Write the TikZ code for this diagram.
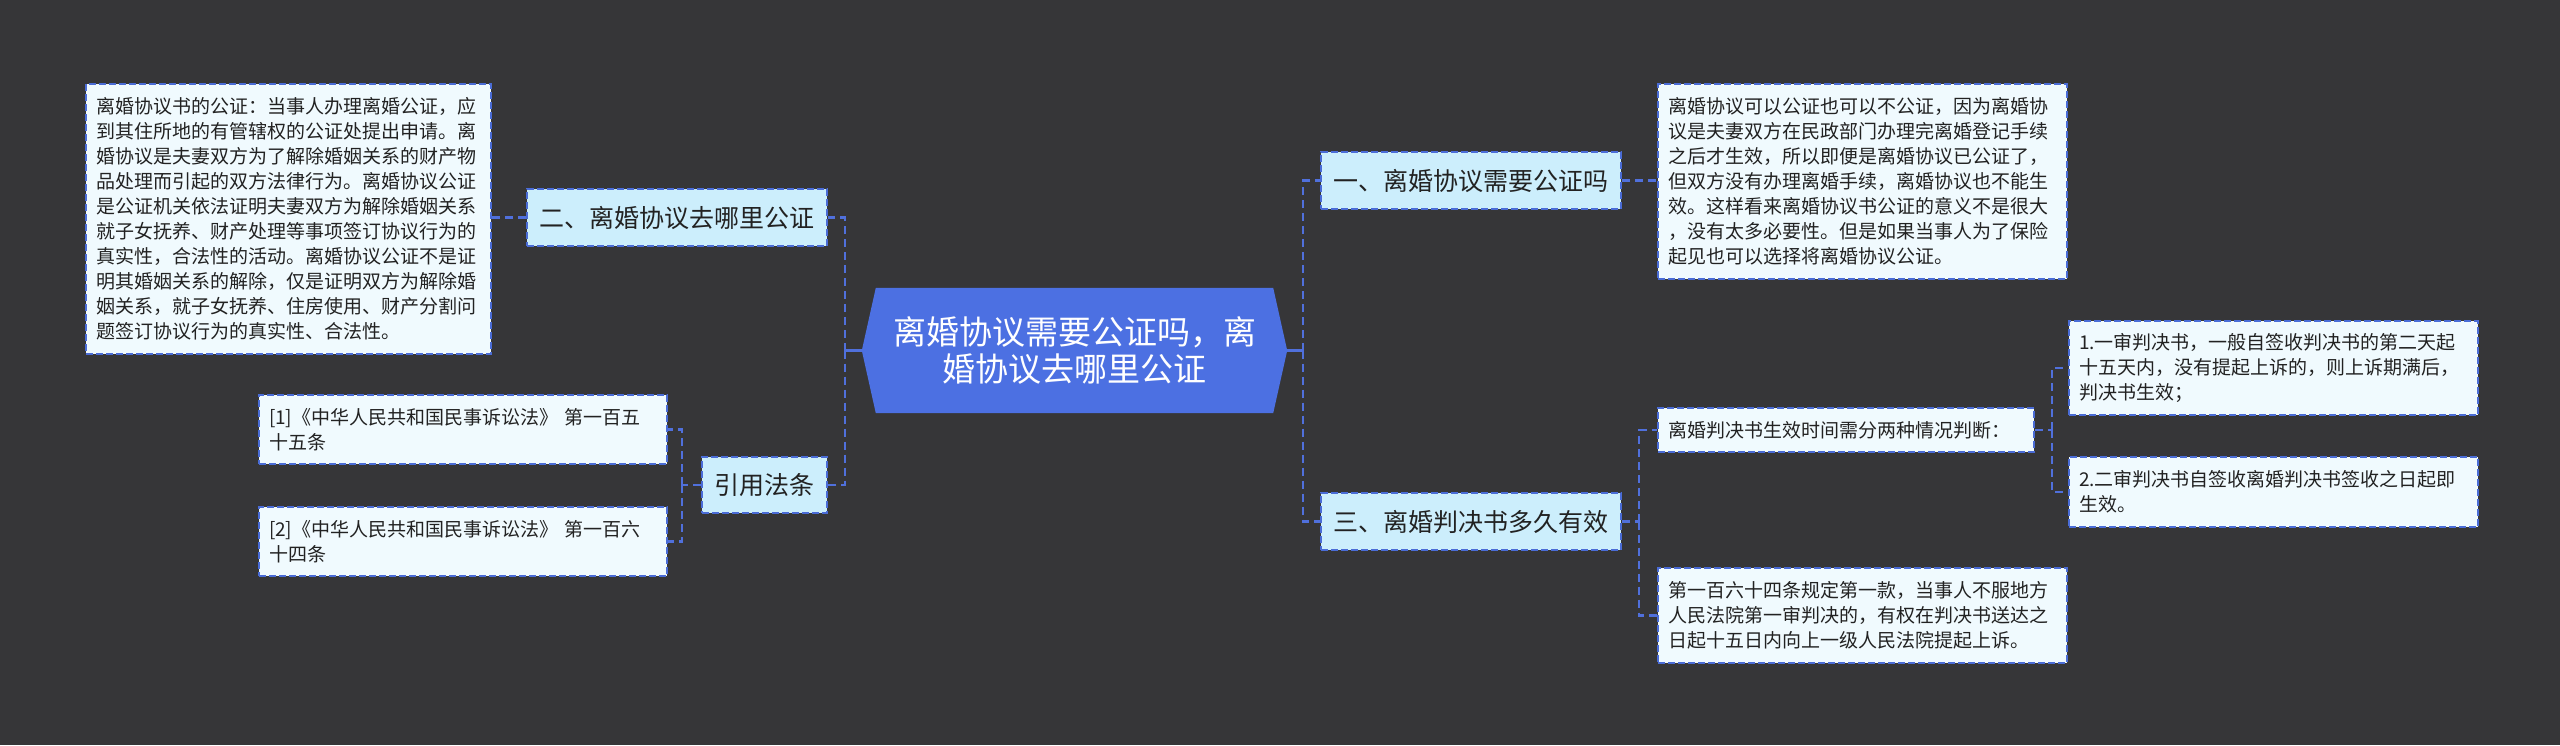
\documentclass[tikz,border=0pt]{standalone}
\usepackage{fontspec}
\setmainfont{Noto Sans CJK SC}
\definecolor{bgc}{RGB}{54,54,56}
\definecolor{l1fill}{RGB}{204,238,252}
\definecolor{leaffill}{RGB}{240,250,254}
\definecolor{bordc}{RGB}{74,108,214}
\definecolor{linec}{RGB}{80,112,220}
\definecolor{hexc}{RGB}{76,112,226}
\definecolor{txtc}{RGB}{34,34,34}
\begin{document}
\begin{tikzpicture}[x=1pt,y=-1pt,
  conn/.style={draw=linec, line width=2.4pt, dash pattern=on 8pt off 5pt},
  stub/.style={draw=linec, line width=2.4pt},
  lone/.style={draw=bordc, fill=l1fill, line width=2pt, dash pattern=on 7pt off 3pt,
    minimum height=57pt, inner sep=0pt, align=center,
    font=\fontsize{25}{30}\selectfont, text=txtc},
  leaf/.style={draw=bordc, fill=leaffill, line width=2pt, dash pattern=on 7pt off 3pt,
    inner xsep=10pt, inner ysep=0pt, align=left, anchor=north west,
    font=\fontsize{19}{25}\selectfont, text=txtc},
]
\fill[bgc] (0,0) rectangle (2560,745);
\useasboundingbox (0,0) rectangle (2560,745);

% center
\node[minimum width=425pt, minimum height=125pt, inner sep=0pt] (c) at (1074.5,350.5) {};
\fill[hexc] (c.west) -- ([xshift=14pt]c.north west) -- ([xshift=-14pt]c.north east)
  -- (c.east) -- ([xshift=-14pt]c.south east) -- ([xshift=14pt]c.south west) -- cycle;
\node[text=white, align=center, font=\fontsize{33}{37}\selectfont, inner sep=0pt] (ct) at (c)
  {离婚协议需要公证吗，离\\婚协议去哪里公证};

% level one
\node[lone, minimum width=300pt] (n2) at (677,217.5) {二、离婚协议去哪里公证};
\node[lone, minimum width=125pt, minimum height=56pt] (ref) at (764.5,485) {引用法条};
\node[lone, minimum width=300pt] (n1) at (1471,180.5) {一、离婚协议需要公证吗};
\node[lone, minimum width=300pt] (n3) at (1471,521.5) {三、离婚判决书多久有效};

% leaves
\node[leaf, text width=385pt, minimum height=270pt] (ld) at (85,83)
 {离婚协议书的公证：当事人办理离婚公证，应\\到其住所地的有管辖权的公证处提出申请。离\\婚协议是夫妻双方为了解除婚姻关系的财产物\\品处理而引起的双方法律行为。离婚协议公证\\是公证机关依法证明夫妻双方为解除婚姻关系\\就子女抚养、财产处理等事项签订协议行为的\\真实性，合法性的活动。离婚协议公证不是证\\明其婚姻关系的解除，仅是证明双方为解除婚\\姻关系，就子女抚养、住房使用、财产分割问\\题签订协议行为的真实性、合法性。};
\node[leaf, text width=388pt, minimum height=69pt] (r1) at (258,394)
 {[1]《中华人民共和国民事诉讼法》 第一百五\\十五条};
\node[leaf, text width=388pt, minimum height=69pt] (r2) at (258,506)
 {[2]《中华人民共和国民事诉讼法》 第一百六\\十四条};
\node[leaf, text width=389pt, minimum height=195pt] (d1) at (1657,83)
 {离婚协议可以公证也可以不公证，因为离婚协\\议是夫妻双方在民政部门办理完离婚登记手续\\之后才生效，所以即便是离婚协议已公证了，\\但双方没有办理离婚手续，离婚协议也不能生\\效。这样看来离婚协议书公证的意义不是很大\\，没有太多必要性。但是如果当事人为了保险\\起见也可以选择将离婚协议公证。};
\node[leaf, text width=356pt, minimum height=44pt] (j) at (1657,407)
 {离婚判决书生效时间需分两种情况判断：};
\node[leaf, text width=389pt, minimum height=95pt] (b3) at (1657,567)
 {第一百六十四条规定第一款，当事人不服地方\\人民法院第一审判决的，有权在判决书送达之\\日起十五日内向上一级人民法院提起上诉。};
\node[leaf, text width=389pt, minimum height=94pt] (b1) at (2068,320)
 {1.一审判决书，一般自签收判决书的第二天起\\十五天内，没有提起上诉的，则上诉期满后，\\判决书生效；};
\node[leaf, text width=389pt, minimum height=70pt] (b2) at (2068,456)
 {2.二审判决书自签收离婚判决书签收之日起即\\生效。};

% connectors: center
\draw[stub] (c.east) -- ++(16,0);
\draw[conn] ([xshift=16pt]c.east) |- (n1.west);
\draw[conn] ([xshift=16pt]c.east) |- (n3.west);
\draw[stub] (c.west) -- ++(-17,0);
\draw[conn] ([xshift=-17pt]c.west) |- (n2.east);
\draw[conn] ([xshift=-17pt]c.west) |- (ref.east);

% level one to leaves
\draw[conn] (n2.west) -- (n2.west -| ld.east);
\draw[conn] (n1.east) -- (n1.east -| d1.west);
\draw[conn] (ref.west) -- ++(-19,0);
\draw[conn] ([xshift=-19pt]ref.west) |- (r1.east);
\draw[conn] ([xshift=-19pt]ref.west) |- (r2.east);
\draw[conn] (n3.east) -- ++(17,0);
\draw[conn] ([xshift=17pt]n3.east) |- (j.west);
\draw[conn] ([xshift=17pt]n3.east) |- (b3.west);
\draw[conn] (j.east) -- ++(17,0);
\draw[conn] ([xshift=17pt]j.east) |- (b1.west);
\draw[conn] ([xshift=17pt]j.east) |- (b2.west);
\end{tikzpicture}
\end{document}
